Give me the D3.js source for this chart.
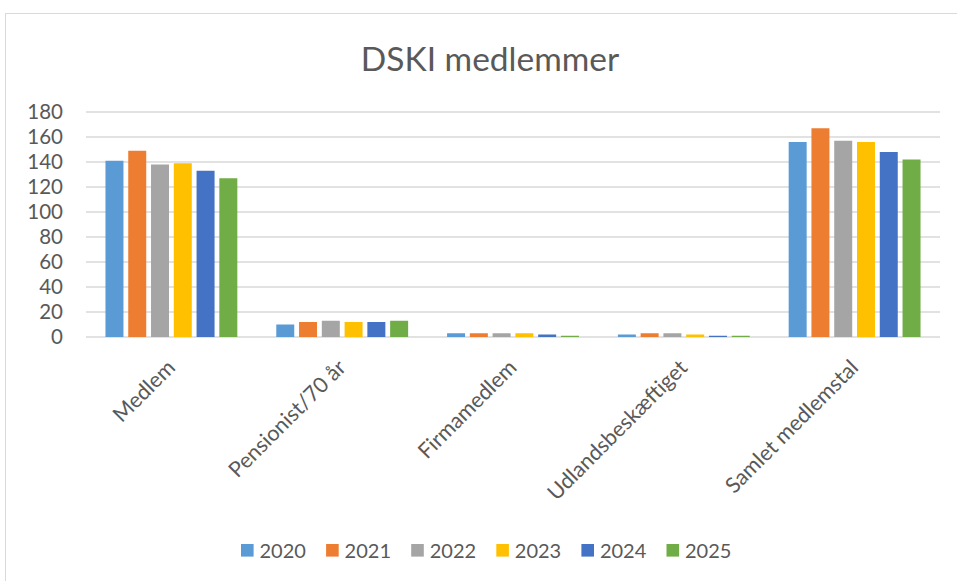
<!DOCTYPE html>
<html>
<head>
<meta charset="utf-8">
<script src="https://cdn.jsdelivr.net/npm/d3@7"></script>
<style>
  html, body { margin: 0; padding: 0; background: #fff; }
  text { font-family: Lato, "Open Sans", sans-serif; fill: #595959; }
</style>
</head>
<body>
<script>
'use strict';

const categories = ['Medlem', 'Pensionist/70 år', 'Firmamedlem', 'Udlandsbeskæftiget', 'Samlet medlemstal'];
const years = ['2020', '2021', '2022', '2023', '2024', '2025'];

// one array per year, values in category order
const v2020 = [141, 10, 3, 2, 156];
const v2021 = [149, 12, 3, 3, 167];
const v2022 = [138, 13, 3, 3, 157];
const v2023 = [139, 12, 3, 2, 156];
const v2024 = [133, 12, 2, 1, 148];
const v2025 = [127, 13, 1, 1, 142];

const yTicks = [0, 20, 40, 60, 80, 100, 120, 140, 160, 180];

const colors = ['#5B9BD5', '#ED7D31', '#A5A5A5', '#FFC000', '#4472C4', '#70AD47'];

const series = [v2020, v2021, v2022, v2023, v2024, v2025];

const width  = 957;
const height = 581;

const plotL = 86;
const plotR = 940;
const plotT = 112;
const plotB = 337;

const svg = d3.select('body')
  .append('svg')
  .attr('width', width)
  .attr('height', height);

// chart frame
svg.append('rect')
  .attr('x', 5.5)
  .attr('y', 13.5)
  .attr('width', 970)
  .attr('height', 600)
  .attr('fill', 'none')
  .attr('stroke', '#d9d9d9')
  .attr('stroke-width', 1);

svg.append('text')
  .attr('x', 490)
  .attr('y', 71)
  .attr('text-anchor', 'middle')
  .style('font-size', '33.5px')
  .text('DSKI medlemmer');

const y = d3.scaleLinear().domain([0, 180]).range([plotB, plotT]);

const x0 = d3.scaleBand()
  .domain(categories)
  .range([plotL, plotR])
  .paddingInner(0.2)
  .paddingOuter(0.1);

const x1 = d3.scaleBand()
  .domain(years)
  .range([0, x0.bandwidth()])
  .paddingInner(0.21)
  .paddingOuter(0.105);

// gridlines
svg.append('g')
  .selectAll('line')
  .data(yTicks)
  .join('line')
  .attr('x1', plotL)
  .attr('x2', plotR)
  .attr('y1', d => y(d))
  .attr('y2', d => y(d))
  .attr('stroke', '#d9d9d9')
  .attr('stroke-width', 1.3);

// y tick labels
svg.append('g')
  .selectAll('text')
  .data(yTicks)
  .join('text')
  .attr('x', 63)
  .attr('y', d => y(d))
  .attr('dy', '0.36em')
  .attr('text-anchor', 'end')
  .style('font-size', '20.5px')
  .text(d => d);

// bars
years.forEach((yr, i) => {
  svg.append('g')
    .selectAll('rect')
    .data(series[i])
    .join('rect')
    .attr('x', (d, j) => x0(categories[j]) + x1(yr))
    .attr('y', d => y(d))
    .attr('width', x1.bandwidth())
    .attr('height', d => y(0) - y(d))
    .attr('fill', colors[i]);
});

// category labels
svg.append('g')
  .selectAll('text')
  .data(categories)
  .join('text')
  .attr('transform', d => 'translate(' + (x0(d) + x0.bandwidth() / 2 + 5) + ',369) rotate(-45)')
  .attr('text-anchor', 'end')
  .style('font-size', '21.5px')
  .text(d => d);

// legend
const legend = svg.append('g')
  .selectAll('g')
  .data(years)
  .join('g')
  .attr('transform', (d, i) => 'translate(' + (241 + i * 85.1) + ',544)');

legend.append('rect')
  .attr('width', 12.6)
  .attr('height', 12.6)
  .attr('fill', (d, i) => colors[i]);

legend.append('text')
  .attr('x', 18.5)
  .attr('y', 13.5)
  .style('font-size', '20px')
  .text(d => d);
</script>
</body>
</html>
